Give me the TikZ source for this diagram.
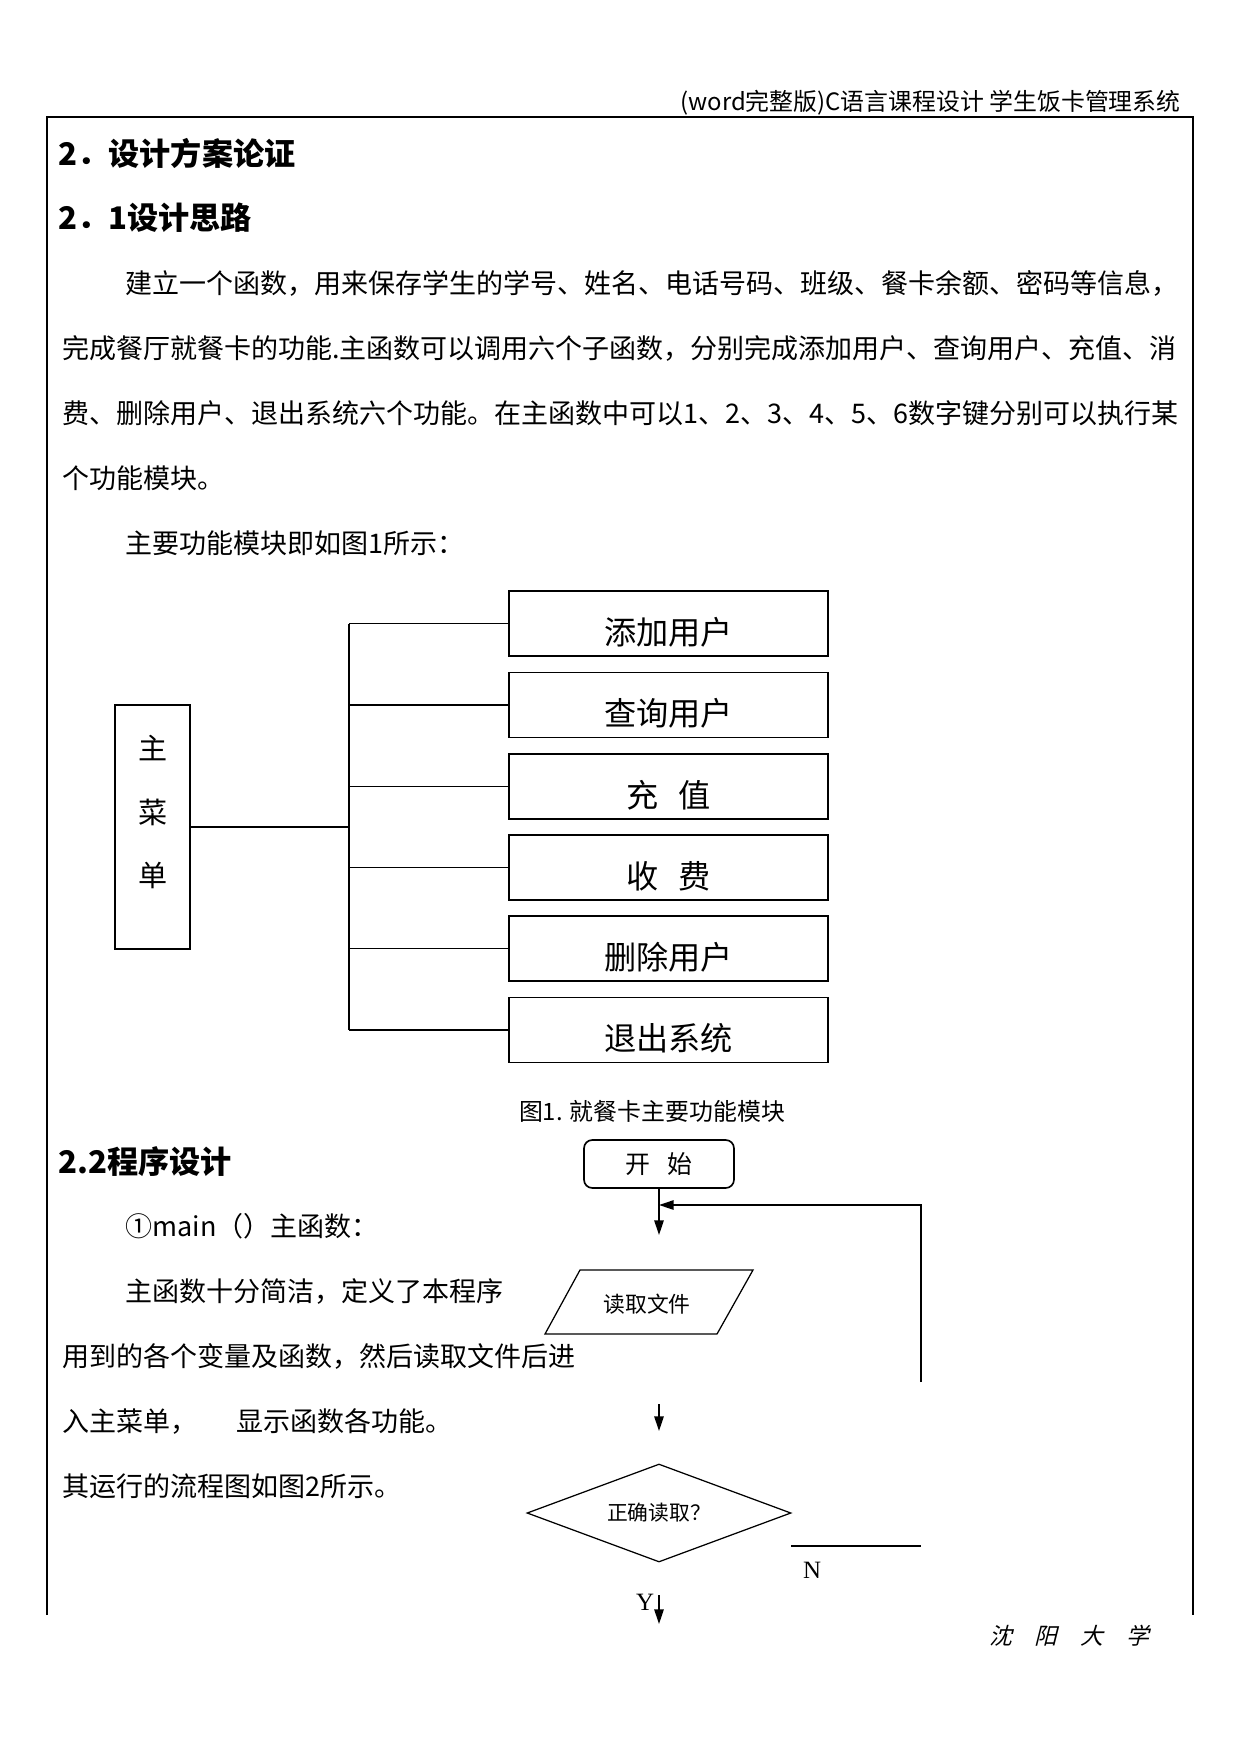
\documentclass[tikz,border=0pt]{standalone}
\usepackage{fontspec}
\setmainfont{Noto Sans CJK SC}
\newfontfamily\slcjk{Noto Sans CJK SC}[FakeSlant=0.25]
\newfontfamily\tms{Liberation Serif}
\usetikzlibrary{shapes.geometric,arrows.meta,calc}
\def\px{0.016922cm}
\tikzset{
  txt/.style={anchor=west, inner sep=0pt, font=\fontsize{13}{15}\selectfont},
  head/.style={anchor=west, inner sep=0pt, font=\fontsize{15}{18}\selectfont\bfseries},
  fbox/.style={draw, line width=0.9pt, minimum width=319*\px, minimum height=65*\px, inner sep=0pt, text height=20pt, text depth=0pt, font=\fontsize{15.5}{18}\selectfont},
  link/.style={line width=0.9pt},
  arr/.style={line width=0.7pt, -{Triangle[length=7pt,width=4.5pt]}},
}
\begin{document}
\begin{tikzpicture}[x=\px, y=-\px]
\fill[white] (0,0) rectangle (1241,1754);
\useasboundingbox (0,0) rectangle (1241,1754);

% header and frame
\node[anchor=east, inner sep=0pt, font=\fontsize{11.5}{13}\selectfont] (hdr) at (1181,103) {(word完整版)C语言课程设计\ 学生饭卡管理系统};
\draw[line width=0.8pt] (47,1615) -- (47,117) -- (1193,117) -- (1193,1615);

% section 2
\node[head] (h2) at (58,153) {2．设计方案论证};
\node[head] (h21) at (58,218) {2．1设计思路};
\node[txt] (p1) at (125,283) {建立一个函数，用来保存学生的学号、姓名、电话号码、班级、餐卡余额、密码等信息，};
\node[txt] (p2) at (62,348) {完成餐厅就餐卡的功能.主函数可以调用六个子函数，分别完成添加用户、查询用户、充值、消};
\node[txt] (p3) at (62,413) {费、删除用户、退出系统六个功能。在主函数中可以1、2、3、4、5、6数字键分别可以执行某};
\node[txt] (p4) at (62,478) {个功能模块。};
\node[txt] (p5) at (125,543) {主要功能模块即如图1所示：};

% figure 1
\node[draw, line width=0.9pt, minimum width=75*\px, minimum height=244*\px, inner sep=0pt] (menu) at (152.5,827) {};
\node[inner sep=0pt, align=center, font=\fontsize{14}{30.8}\selectfont] (menutxt) at (153,812) {主\\菜\\单};
\node[fbox] (b1) at (668.5,623.5) {添加用户};
\node[fbox] (b2) at (668.5,705) {查询用户};
\node[fbox] (b3) at (668.5,786.5) {充\hspace{0.6em}值};
\node[fbox] (b4) at (668.5,867.5) {收\hspace{0.6em}费};
\node[fbox] (b5) at (668.5,948.5) {删除用户};
\node[fbox] (b6) at (668.5,1030) {退出系统};
\coordinate (tr) at (349,827);
\draw[link] (menu.east) -- (tr);
\foreach \b in {b1,b2,b3,b4,b5,b6} {\draw[link] (\b.west) -- (\b.west -| tr);}
\draw[link] (b1.west -| tr) -- (b6.west -| tr);
\node[inner sep=0pt, font=\fontsize{11.5}{13}\selectfont] (cap1) at (652,1111) {图1. 就餐卡主要功能模块};

% section 2.2
\node[head] (h22) at (58,1162) {2.2程序设计};
\node[txt] (q1) at (125,1226) {①main（）主函数：};
\node[txt] (q2) at (125,1291) {主函数十分简洁，定义了本程序};
\node[txt] (q3) at (62,1356) {用到的各个变量及函数，然后读取文件后进};
\node[txt] (q4) at (62,1421) {入主菜单，\hspace{19pt}显示函数各功能。};
\node[txt] (q5) at (62,1486) {其运行的流程图如图2所示。};

% flowchart
\node[draw, rounded corners=4pt, line width=0.8pt, minimum width=150*\px, minimum height=48*\px, inner sep=0pt, font=\fontsize{12}{14}\selectfont] (start) at (659,1164) {开\hspace{0.7em}始};
\coordinate (a1) at (659,1235);
\draw[arr] (start.south) -- (a1);
\coordinate (fb1) at (921,1382);
\coordinate (fb2) at (921,1205);
\draw[arr] (fb1) -- (fb2) -- (fb2 -| start);
\node[inner sep=0pt, font=\fontsize{10.5}{12}\selectfont] (rd) at (647,1304) {读取文件};
\draw[line width=0.6pt] ($(rd)+(-67,-34)$) -- ($(rd)+(106,-34)$) -- ($(rd)+(70,30)$) -- ($(rd)+(-102,30)$) -- cycle;
\coordinate (a2s) at (659,1404);
\coordinate (a2e) at (659,1431);
\draw[arr] (a2s) -- (a2e);
\node[draw, diamond, aspect=2.7, minimum width=264*\px, minimum height=98*\px, inner sep=0pt, line width=0.6pt, font=\fontsize{10}{12}\selectfont] (dec) at (659,1513) {正确读取？};
\coordinate (n1) at (791,1546);
\coordinate (n2) at (921,1546);
\draw[link] (n1) -- (n2);
\node[inner sep=0pt, font=\tms\fontsize{12}{14}\selectfont] (nl) at (812,1570) {N};
\coordinate (ys) at (659,1595);
\coordinate (ye) at (659,1624);
\draw[arr] (ys) -- (ye);
\node[inner sep=0pt, font=\tms\fontsize{12}{14}\selectfont] (yl) at (645,1602) {Y};

% footer
\node[inner sep=0pt, font=\slcjk\fontsize{11}{13}\selectfont] (ft) at (1069,1636) {沈\quad 阳\quad 大\quad 学};
\end{tikzpicture}
\end{document}
